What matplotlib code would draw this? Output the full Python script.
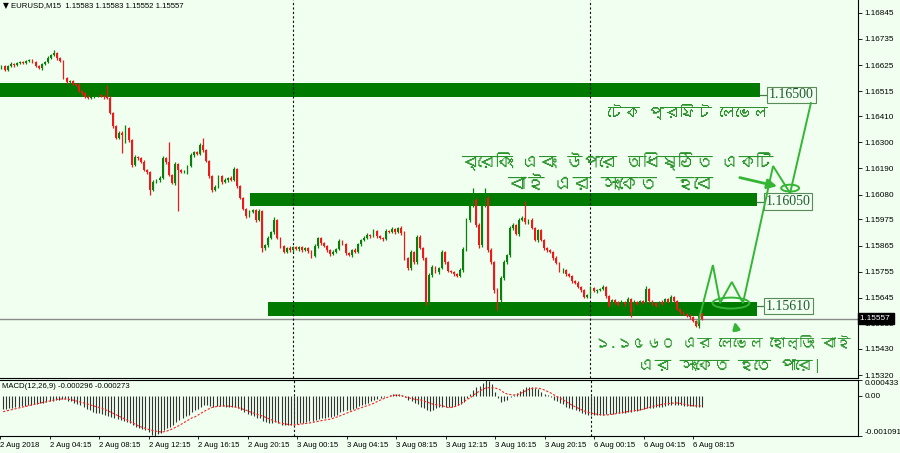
import numpy as np
import matplotlib
matplotlib.use("Agg")
import matplotlib.pyplot as plt
import matplotlib.transforms as mtransforms
import matplotlib.font_manager as fm
from matplotlib.ft2font import FT2Font
from matplotlib.patches import Rectangle, Ellipse, FancyArrowPatch

# ---------------- data ----------------
symbol_title = "EURUSD,M15  1.15583 1.15583 1.15552 1.15557"
first_open = 1.16613
closes = [
    1.16621, 1.16604, 1.16621, 1.16630, 1.16625, 1.16634, 1.16638, 1.16634, 1.16642, 1.16646,
    1.16638, 1.16621, 1.16613, 1.16630, 1.16638, 1.16655, 1.16667, 1.16676, 1.16655, 1.16642,
    1.16571, 1.16554, 1.16558, 1.16545, 1.16541, 1.16516, 1.16507, 1.16491, 1.16486, 1.16491,
    1.16495, 1.16499, 1.16495, 1.16491, 1.16486, 1.16423, 1.16368, 1.16318, 1.16339, 1.16331,
    1.16360, 1.16310, 1.16204, 1.16238, 1.16234, 1.16217, 1.16183, 1.16175, 1.16099, 1.16133,
    1.16141, 1.16150, 1.16234, 1.16217, 1.16162, 1.16129, 1.16209, 1.16183, 1.16175, 1.16175,
    1.16200, 1.16246, 1.16259, 1.16251, 1.16289, 1.16268, 1.16221, 1.16158, 1.16099, 1.16112,
    1.16158, 1.16133, 1.16141, 1.16150, 1.16141, 1.16187, 1.16116, 1.16065, 1.16019, 1.15990,
    1.16006, 1.16015, 1.15973, 1.16011, 1.15855, 1.15867, 1.15897, 1.15922, 1.15973, 1.15897,
    1.15863, 1.15838, 1.15855, 1.15846, 1.15859, 1.15851, 1.15859, 1.15846, 1.15855, 1.15842,
    1.15821, 1.15863, 1.15897, 1.15876, 1.15863, 1.15846, 1.15830, 1.15838, 1.15851, 1.15884,
    1.15872, 1.15834, 1.15825, 1.15846, 1.15838, 1.15872, 1.15889, 1.15897, 1.15910, 1.15905,
    1.15926, 1.15905, 1.15897, 1.15893, 1.15926, 1.15922, 1.15935, 1.15922, 1.15939, 1.15918,
    1.15813, 1.15771, 1.15838, 1.15796, 1.15901, 1.15855, 1.15813, 1.15628, 1.15741, 1.15775,
    1.15754, 1.15771, 1.15838, 1.15796, 1.15758, 1.15754, 1.15745, 1.15737, 1.15762, 1.15851,
    1.15973, 1.16036, 1.16057, 1.15952, 1.15867, 1.16036, 1.16065, 1.15846, 1.15796, 1.15678,
    1.15636, 1.15729, 1.15796, 1.15825, 1.15939, 1.15952, 1.15914, 1.15973, 1.15981, 1.15964,
    1.15973, 1.15939, 1.15889, 1.15930, 1.15889, 1.15855, 1.15846, 1.15838, 1.15813, 1.15792,
    1.15762, 1.15762, 1.15745, 1.15737, 1.15716, 1.15708, 1.15691, 1.15678, 1.15649, 1.15657,
    1.15686, 1.15674, 1.15678, 1.15682, 1.15691, 1.15653, 1.15611, 1.15636, 1.15628, 1.15615,
    1.15628, 1.15619, 1.15640, 1.15585, 1.15628, 1.15619, 1.15632, 1.15623, 1.15682, 1.15632,
    1.15623, 1.15611, 1.15628, 1.15619, 1.15640, 1.15628, 1.15649, 1.15632, 1.15598, 1.15585,
    1.15577, 1.15569, 1.15564, 1.15548, 1.15527, 1.15583, 1.15557,
]
# wick lengths above / below the body, in points (0.00001)
upper_wick_pts = [
    6, 4, 5, 7, 3, 5, 6, 4, 5, 6,
    4, 5, 6, 3, 5, 7, 6, 12, 5, 4,
    6, 5, 4, 6, 3, 8, 5, 4, 6, 5,
    4, 6, 5, 3, 50, 7, 5, 6, 8, 8,
    12, 6, 5, 8, 6, 5, 7, 4, 6, 8,
    5, 6, 9, 4, 84, 6, 8, 5, 4, 7,
    6, 8, 5, 6, 9, 29, 5, 6, 4, 7,
    6, 5, 7, 4, 6, 8, 5, 4, 6, 5,
    7, 4, 6, 9, 5, 6, 8, 5, 13, 6,
    5, 6, 4, 7, 5, 6, 4, 5, 6, 5,
    4, 7, 6, 5, 4, 6, 5, 7, 4, 8,
    5, 6, 4, 5, 7, 6, 5, 8, 6, 5,
    7, 5, 6, 4, 8, 5, 9, 6, 5, 7,
    8, 6, 9, 5, 10, 7, 6, 5, 8, 9,
    6, 5, 8, 6, 5, 4, 6, 5, 7, 9,
    10, 12, 51, 8, 7, 15, 43, 10, 9, 6,
    8, 7, 9, 6, 10, 7, 6, 9, 8, 71,
    6, 8, 5, 7, 6, 5, 4, 6, 5, 7,
    6, 8, 5, 6, 4, 5, 7, 4, 6, 5,
    7, 5, 6, 5, 8, 4, 5, 6, 4, 5,
    6, 4, 7, 5, 6, 4, 5, 6, 12, 5,
    4, 6, 5, 7, 5, 6, 8, 5, 4, 6,
    5, 4, 6, 5, 4, 12, 0,
]
lower_wick_pts = [
    5, 6, 4, 5, 7, 4, 5, 6, 4, 5,
    6, 5, 4, 7, 5, 4, 6, 5, 7, 6,
    5, 7, 6, 4, 6, 5, 8, 6, 5, 4,
    6, 5, 4, 7, 5, 6, 8, 5, 6, 76,
    34, 7, 6, 5, 8, 6, 5, 7, 21, 6,
    5, 8, 6, 7, 5, 6, 9, 172, 6, 5,
    7, 6, 8, 5, 6, 7, 5, 8, 10, 6,
    5, 7, 6, 8, 5, 6, 7, 5, 6, 8,
    6, 5, 7, 6, 17, 8, 6, 5, 7, 6,
    8, 6, 5, 7, 6, 5, 8, 6, 5, 7,
    9, 5, 6, 7, 5, 6, 8, 5, 6, 5,
    6, 8, 5, 7, 6, 5, 7, 6, 5, 6,
    5, 7, 6, 8, 5, 6, 5, 7, 6, 8,
    9, 10, 7, 9, 8, 6, 8, 13, 13, 7,
    6, 8, 5, 7, 6, 5, 7, 6, 5, 8,
    9, 8, 7, 10, 12, 9, 8, 10, 9, 14,
    42, 9, 8, 7, 6, 8, 5, 7, 6, 6,
    7, 5, 6, 8, 5, 7, 6, 5, 8, 6,
    7, 14, 6, 5, 7, 6, 5, 8, 6, 5,
    6, 5, 7, 5, 6, 8, 6, 5, 7, 6,
    5, 7, 6, 21, 5, 6, 7, 5, 6, 8,
    6, 5, 7, 5, 6, 5, 7, 6, 5, 8,
    6, 5, 7, 6, 5, 8, 5,
]
# MACD(12,26,9) main histogram and signal, in millionths
macd_main_e6 = [
    -360, -350, -335, -320, -305, -290, -275, -262, -250, -240,
    -228, -218, -200, -185, -170, -150, -130, -115, -100, -88,
    -95, -125, -150, -180, -215, -255, -300, -345, -390, -430,
    -455, -475, -495, -515, -540, -570, -600, -640, -665, -680,
    -700, -725, -790, -840, -870, -900, -940, -980, -1060, -1091,
    -1050, -1000, -920, -880, -850, -800, -720, -660, -610, -560,
    -510, -450, -390, -350, -300, -255, -250, -265, -290, -285,
    -280, -285, -290, -295, -300, -290, -320, -370, -430, -480,
    -520, -550, -590, -610, -680, -710, -730, -735, -720, -750,
    -780, -795, -790, -780, -770, -755, -740, -725, -710, -695,
    -690, -660, -630, -610, -595, -585, -575, -550, -510, -450,
    -410, -390, -375, -350, -320, -280, -250, -215, -180, -150,
    -115, -90, -60, -30, 0, 25, 45, 52, 45, 20,
    -40, -110, -150, -200, -220, -290, -330, -390, -400, -370,
    -330, -305, -290, -300, -305, -300, -280, -255, -220, -160,
    -70, 40, 150, 230, 260, 340, 433, 400, 320, 120,
    -60, -160, -150, -110, -40, 30, 70, 140, 200, 230,
    245, 240, 220, 180, 100, 50, 20, -40, -100, -150,
    -195, -230, -290, -320, -355, -385, -420, -460, -490, -510,
    -520, -520, -518, -515, -510, -505, -495, -485, -478, -470,
    -463, -458, -450, -440, -420, -400, -385, -365, -340, -330,
    -320, -310, -300, -290, -270, -255, -245, -242, -248, -255,
    -262, -268, -275, -282, -290, -295, -296,
]
macd_signal_e6 = [
    -429, -410, -390, -370, -350, -330, -310, -290, -270, -250,
    -230, -210, -193, -175, -158, -140, -120, -100, -88, -84,
    -84, -90, -105, -125, -145, -165, -190, -215, -240, -265,
    -290, -315, -340, -375, -410, -450, -490, -530, -573, -615,
    -655, -700, -740, -785, -825, -855, -885, -910, -935, -955,
    -970, -981, -975, -955, -925, -885, -845, -800, -750, -700,
    -650, -600, -573, -520, -470, -420, -375, -329, -305, -290,
    -280, -275, -274, -280, -290, -300, -320, -345, -375, -405,
    -440, -470, -500, -519, -555, -590, -625, -660, -695, -730,
    -745, -760, -775, -785, -791, -785, -770, -760, -750, -737,
    -720, -705, -690, -670, -655, -640, -628, -600, -570, -540,
    -505, -470, -437, -405, -375, -345, -315, -285, -255, -230,
    -190, -150, -110, -75, -45, -15, 10, 25, 15, 0,
    -29, -50, -70, -90, -105, -111, -140, -170, -200, -225,
    -240, -247, -270, -295, -320, -310, -290, -260, -210, -150,
    -90, -57, 20, 80, 130, 180, 215, 225, 220, 215,
    190, 150, 79, 50, 35, 25, 30, 60, 100, 140,
    180, 205, 215, 210, 190, 160, 120, 80, 30, -20,
    -57, -110, -160, -210, -260, -301, -340, -380, -415, -445,
    -465, -485, -500, -510, -519, -519, -510, -500, -485, -465,
    -455, -440, -425, -410, -400, -390, -383, -360, -335, -310,
    -285, -265, -247, -230, -215, -205, -198, -193, -193, -205,
    -225, -245, -260, -270, -272, -273, -273,
]
macd_label = "MACD(12,26,9) -0.000296 -0.000273"
macd_ticks = [0.000433, 0.0, -0.001091]
macd_ticklabels = ["0.000433", "0.00", "-0.001091"]

price_ticks = [1.16845, 1.16735, 1.16625, 1.16515, 1.16410, 1.16300, 1.16190, 1.16080,
               1.15975, 1.15865, 1.15755, 1.15645, 1.15535, 1.15430, 1.15320]
bid_price = 1.15557
time_labels = ["2 Aug 2018", "2 Aug 04:15", "2 Aug 08:15", "2 Aug 12:15", "2 Aug 16:15",
               "2 Aug 20:15", "3 Aug 00:15", "3 Aug 04:15", "3 Aug 08:15", "3 Aug 12:15",
               "3 Aug 16:15", "3 Aug 20:15", "6 Aug 00:15", "6 Aug 04:15", "6 Aug 08:15"]
time_label_bars = [-1, 15, 31, 47, 63, 79, 95, 111, 127, 143, 159, 175, 191, 207, 223]
day_separator_bars = [94, 190]

band_levels = [1.16500, 1.16050, 1.15610]
band_tops = [1.16549, 1.16086, 1.15627]
band_bottoms = [1.16490, 1.16031, 1.15568]

text_tp = "টেক প্রফিট লেভেল"
text_break = ["ব্রেকিং এবং উপরে অধিষ্ঠিত একটি", "বাই এর সংকেত  হবে"]
text_hold = ["১.১৫৬০ এর লেভেল হোল্ডিং বাই", "এর সংকেত হতে পারে|"]

# projected path drawn on the chart (bar index, price)
path_bars = [224.7, 229.5, 231.8, 235.6, 239.2, 248.9, 254.4, 261.1]
path_prices = [1.15539, 1.15783, 1.15623, 1.15712, 1.15623, 1.16200, 1.16086, 1.16465]

# ---------------- style ----------------
BG = "#f0fff0"
UP = "#0a7f0a"
DN = "#f01818"
BAND = "#007a00"
LINE_G = "#35b535"
TXT_G = "#2a922a"
plt.rcParams["font.family"] = ["Liberation Sans", "DejaVu Sans"]

# find a font that has Bengali glyphs, if any
beng = None
for f in fm.fontManager.ttflist:
    try:
        if FT2Font(f.fname).get_char_index(ord("ক")):
            beng = f.name
            break
    except Exception:
        pass
beng_family = [beng, "DejaVu Sans"] if beng else ["DejaVu Sans"]
avail = {f.name for f in fm.fontManager.ttflist}
small_family = [f for f in ["Liberation Sans Narrow", "Liberation Sans", "DejaVu Sans"] if f in avail] or ["DejaVu Sans"]
SMALL = 5.9

n = len(closes)
assert len(upper_wick_pts) == n and len(lower_wick_pts) == n
assert len(macd_main_e6) == n and len(macd_signal_e6) == n
x = np.arange(n)
c = np.array(closes)
o = np.array([first_open] + closes[:-1])
hi = np.maximum(o, c) + np.array(upper_wick_pts) * 1e-5
lo = np.minimum(o, c) - np.array(lower_wick_pts) * 1e-5
main = np.array(macd_main_e6) * 1e-6
sig = np.array(macd_signal_e6) * 1e-6

W, H = 900, 453
fig = plt.figure(figsize=(9, 4.53), dpi=100, facecolor=BG)
ax1 = fig.add_axes([0, (H - 378) / H, 858 / W, 378 / H], facecolor=BG)
ax2 = fig.add_axes([0, (H - 436) / H, 858 / W, 56 / H], facecolor=BG)

XL = (-0.48, 276.3)
for ax in (ax1, ax2):
    ax.set_xlim(*XL)
    ax.spines["left"].set_visible(False)
    for s in ("right", "top", "bottom"):
        ax.spines[s].set_color("#000000")
        ax.spines[s].set_linewidth(0.8)
ax1.spines["top"].set_visible(False)
ax1.set_ylim(1.153076, 1.168990)
ax2.set_ylim(-0.001091, 0.000433)

# bands
band_x = [(-0.5, 244.7), (80.2, 243.7), (86.0, 243.7)]
for (x0, x1), t, b in zip(band_x, band_tops, band_bottoms):
    ax1.add_patch(Rectangle((x0, b), x1 - x0, t - b, facecolor=BAND, edgecolor="none", zorder=1))

# candles
col = np.where(c >= o, UP, DN)
ax1.vlines(x, lo, hi, colors=col, linewidth=0.9, zorder=3)
bh = np.maximum(np.abs(c - o), 0.000012)
ax1.bar(x, bh, bottom=np.minimum(o, c), width=0.62, color=col, linewidth=0, zorder=4)

# bid line
ax1.axhline(bid_price, color="#8a8a8a", linewidth=1.0, zorder=2)

# separators
for b in day_separator_bars:
    ax1.axvline(b, color="#111111", linestyle=(0, (2, 2)), linewidth=0.8, zorder=2)
    ax2.axvline(b, color="#111111", linestyle=(0, (2, 2)), linewidth=0.8, zorder=2)

# right axis
ax1.yaxis.tick_right()
ax1.set_yticks(price_ticks)
ax1.set_yticklabels([f"{v:.5f}" for v in price_ticks])
ax1.tick_params(axis="y", length=3, width=0.6, pad=1.5, labelsize=SMALL, colors="#000000")
ax1.set_xticks([])
for lbl in ax1.get_yticklabels():
    lbl.set_family(small_family)

tr = mtransforms.blended_transform_factory(ax1.transAxes, ax1.transData)
ax1.text(1.002, bid_price, "1.15557 ", transform=tr, ha="left", va="center", color="white",
         fontsize=SMALL, family=small_family, zorder=30, clip_on=False,
         bbox=dict(boxstyle="square,pad=0.25", fc="black", ec="black"))

# level labels
for lev, (x0, x1) in zip(band_levels, band_x):
    ax1.plot([x1, x1 + 2.6], [lev, lev], color="#4a7a4a", linewidth=0.9, zorder=5)
    ax1.text(x1 + 2.9, lev, f"{lev:.5f}", ha="left", va="center", fontsize=10,
             family=["Liberation Serif", "DejaVu Serif"], color="#1f5a2f", zorder=6,
             bbox=dict(boxstyle="square,pad=0.12", fc=BG, ec="#5a8a5a", lw=0.8))

# projected path, ellipses, arrows
ax1.plot(path_bars, path_prices, color=LINE_G, linewidth=1.4, zorder=7, solid_joinstyle="miter")
ax1.add_patch(Ellipse((235.3, 1.15623), 11.9, 0.00046, fill=False, ec=LINE_G, lw=1.4, zorder=7))
ax1.add_patch(Ellipse((254.4, 1.16107), 5.8, 0.00029, fill=False, ec=LINE_G, lw=1.4, zorder=7))
ax1.add_patch(FancyArrowPatch((237.3, 1.16154), (251.1, 1.16112), arrowstyle="-|>",
                              mutation_scale=14, color=LINE_G, lw=2.0, zorder=8))
ax1.add_patch(FancyArrowPatch((237.3, 1.15497), (236.3, 1.15556), arrowstyle="-|>",
                              mutation_scale=10, color=LINE_G, lw=2.0, zorder=8))

# Bengali annotations
def btext(xb, yp, s, size):
    ax1.text(xb, yp, s, ha="center", va="center", fontsize=size, color=TXT_G,
             family=beng_family, zorder=9)

btext(221.5, 1.16427, text_tp, 11.5)
btext(198.6, 1.16217, text_break[0], 12.5)
btext(196.3, 1.16124, text_break[1], 13.5)
btext(232.7, 1.15455, text_hold[0], 10.5)
btext(235.0, 1.15358, text_hold[1], 12)

# title
fig.text(3 / W, 1 - 6 / H, "▼", fontsize=5.5, va="center", ha="left", family=["DejaVu Sans"])
fig.text(11 / W, 1 - 6 / H, symbol_title, fontsize=5.6, va="center", ha="left", family=small_family)

# MACD panel
ax2.vlines(x, 0, main, colors="#333333", linewidth=0.8, zorder=3)
ax2.plot(x, sig, color="#ff2020", linewidth=0.8, linestyle=(0, (2, 1.5)), zorder=4)
ax2.text(2 / 858, 0.89, macd_label, transform=ax2.transAxes, fontsize=5.6, va="center",
         ha="left", family=small_family)
ax2.yaxis.tick_right()
ax2.set_yticks(macd_ticks)
ax2.set_yticklabels(macd_ticklabels)
ax2.tick_params(axis="y", length=3, width=0.6, pad=1.5, labelsize=SMALL)
yl = ax2.get_yticklabels()
yl[0].set_va("top")
yl[2].set_va("bottom")
for lbl in yl:
    lbl.set_family(small_family)
ax2.set_xticks(time_label_bars)
ax2.set_xticklabels(time_labels)
ax2.tick_params(axis="x", length=2, width=0.6, pad=2, labelsize=5.6)
for lbl in ax2.get_xticklabels():
    lbl.set_ha("left")
    lbl.set_family(small_family)

fig.savefig("out.png", dpi=100, facecolor=BG)
